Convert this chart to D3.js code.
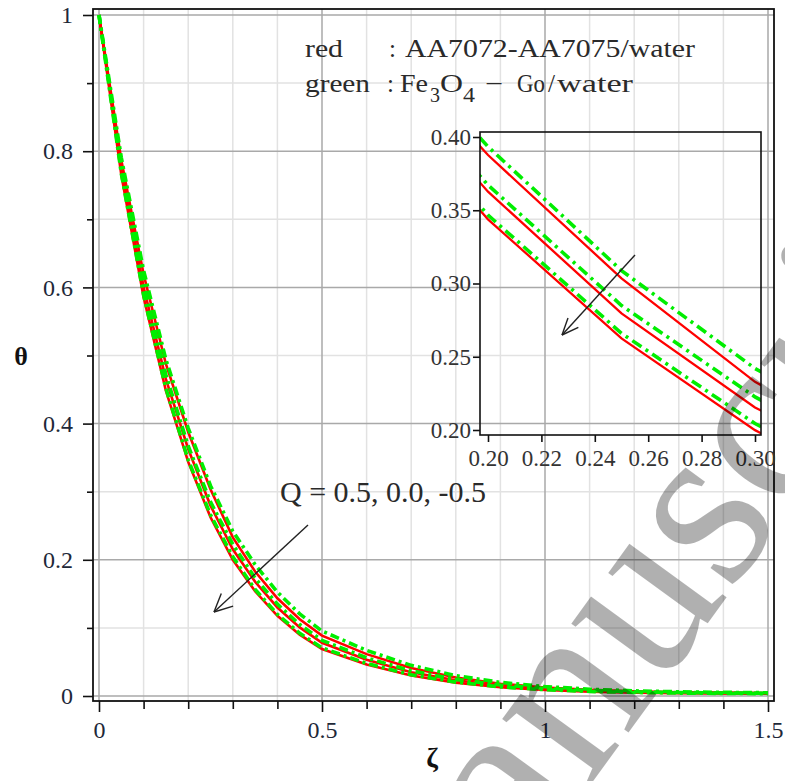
<!DOCTYPE html>
<html><head><meta charset="utf-8">
<script src="https://cdn.jsdelivr.net/npm/d3@7"></script>
<style>body{margin:0;background:#fff} svg{display:block}</style>
</head><body>
<svg id="c" width="785" height="781"></svg>
<script>
// ---------- data ----------
const zeta = [0,0.05,0.1,0.15,0.2,0.25,0.3,0.35,0.4,0.45,0.5,0.6,0.7,0.8,0.9,1.0,1.1,1.2,1.3,1.4,1.5];
// red : AA7072-AA7075/water, Q = 0.5, 0.0, -0.5
const redQ05  = [1,0.7870,0.6194,0.4875,0.3877,0.3035,0.2329,0.1828,0.1435,0.1128,0.0887,0.0615,0.0410,0.0272,0.0180,0.0124,0.0090,0.0068,0.0056,0.0049,0.0044];
const redQ00  = [1,0.7749,0.6005,0.4653,0.3627,0.2796,0.2154,0.1678,0.1300,0.1008,0.0781,0.0533,0.0350,0.0230,0.0152,0.0105,0.0076,0.0058,0.0048,0.0042,0.0038];
const redQm05 = [1,0.7653,0.5857,0.4482,0.3438,0.2625,0.1999,0.1538,0.1177,0.0901,0.0689,0.0462,0.0300,0.0196,0.0128,0.0089,0.0064,0.0050,0.0041,0.0036,0.0032];
// green : Fe3O4-Go/water, Q = 0.5, 0.0, -0.5
const greenQ05  = [1,0.7906,0.6250,0.4941,0.3934,0.3088,0.2420,0.1930,0.1526,0.1206,0.0954,0.0670,0.0450,0.0300,0.0200,0.0138,0.0100,0.0076,0.0062,0.0054,0.0048];
const greenQ00  = [1,0.7784,0.6059,0.4717,0.3672,0.2850,0.2226,0.1732,0.1348,0.1049,0.0817,0.0560,0.0370,0.0244,0.0162,0.0112,0.0081,0.0062,0.0051,0.0045,0.0040];
const greenQm05 = [1,0.7672,0.5886,0.4516,0.3467,0.2660,0.2044,0.1565,0.1200,0.0921,0.0707,0.0478,0.0312,0.0204,0.0134,0.0093,0.0067,0.0052,0.0043,0.0038,0.0034];

const xTicksMain = [0,0.5,1,1.5];
const xTickLabelsMain = ["0","0.5","1","1.5"];
const xMinorMain = [0.1,0.2,0.3,0.4,0.6,0.7,0.8,0.9,1.1,1.2,1.3,1.4];
const yTicksMain = [0,0.2,0.4,0.6,0.8,1];
const yTickLabelsMain = ["0","0.2","0.4","0.6","0.8","1"];
const yMinorMain = [0.1,0.3,0.5,0.7,0.9];
const xTicksInset = [0.20,0.22,0.24,0.26,0.28,0.30];
const xTickLabelsInset = ["0.20","0.22","0.24","0.26","0.28","0.30"];
const yTicksInset = [0.20,0.25,0.30,0.35,0.40];
const yTickLabelsInset = ["0.20","0.25","0.30","0.35","0.40"];

const redSeries = [redQ05, redQ00, redQm05];
const greenSeries = [greenQ05, greenQ00, greenQm05];

// ---------- drawing ----------
const svg = d3.select("#c");
const FONT = "'Liberation Serif','Times New Roman',serif";
const TICKCOL = "#1e2838";

svg.append("rect").attr("width",785).attr("height",781).attr("fill","#fff");

const x = d3.scaleLinear().domain([0,1.5]).range([99,768]);
const y = d3.scaleLinear().domain([0,1]).range([696,15]);
const F = {l:93, r:774, t:9, b:701};

const defs = svg.append("defs");
defs.append("clipPath").attr("id","mainClip").append("rect")
  .attr("x",F.l).attr("y",F.t).attr("width",F.r-F.l).attr("height",F.b-F.t);

// grid
const grid = svg.append("g");
grid.selectAll(".gxm").data(xMinorMain).enter().append("line")
  .attr("x1",d=>x(d)).attr("x2",d=>x(d)).attr("y1",F.t).attr("y2",F.b)
  .attr("stroke","#e2e2e2").attr("stroke-width",1.5);
grid.selectAll(".gym").data(yMinorMain).enter().append("line")
  .attr("y1",d=>y(d)).attr("y2",d=>y(d)).attr("x1",F.l).attr("x2",F.r)
  .attr("stroke","#e2e2e2").attr("stroke-width",1.5);
grid.selectAll(".gx").data(xTicksMain).enter().append("line")
  .attr("x1",d=>x(d)).attr("x2",d=>x(d)).attr("y1",F.t).attr("y2",F.b)
  .attr("stroke","#a9a9a9").attr("stroke-width",1.5);
grid.selectAll(".gy").data(yTicksMain).enter().append("line")
  .attr("y1",d=>y(d)).attr("y2",d=>y(d)).attr("x1",F.l).attr("x2",F.r)
  .attr("stroke","#a9a9a9").attr("stroke-width",1.5);

// frame
svg.append("rect").attr("x",F.l).attr("y",F.t).attr("width",F.r-F.l).attr("height",F.b-F.t)
  .attr("fill","none").attr("stroke","#111").attr("stroke-width",1.8);

// axes
function styleAxis(g, fs){
  g.select(".domain").remove();
  g.selectAll(".tick line").attr("stroke","#111").attr("stroke-width",1.6);
  g.selectAll(".tick text").attr("font-family",FONT).attr("font-size",fs).attr("fill",TICKCOL);
}
const yAxis = svg.append("g").attr("transform",`translate(${F.l},0)`)
  .call(d3.axisLeft(y).tickValues(yTicksMain).tickSize(10).tickPadding(10)
    .tickFormat((d,i)=>yTickLabelsMain[i]));
styleAxis(yAxis,24);
const yAxisMinor = svg.append("g").attr("transform",`translate(${F.l},0)`)
  .call(d3.axisLeft(y).tickValues(yMinorMain).tickSize(6).tickFormat(""));
styleAxis(yAxisMinor,24);
const xAxis = svg.append("g").attr("transform",`translate(0,${F.b})`)
  .call(d3.axisBottom(x).tickValues(xTicksMain).tickSize(11).tickPadding(9)
    .tickFormat((d,i)=>xTickLabelsMain[i]));
styleAxis(xAxis,24);
const xAxisMinor = svg.append("g").attr("transform",`translate(0,${F.b})`)
  .call(d3.axisBottom(x).tickValues(xMinorMain).tickSize(8).tickFormat(""));
styleAxis(xAxisMinor,24);

// axis titles
svg.append("text").attr("x",21).attr("y",365).attr("text-anchor","middle")
  .attr("font-family",FONT).attr("font-weight","bold").attr("font-size",26).attr("fill","#111").text("θ");
svg.append("text").attr("x",432).attr("y",767).attr("text-anchor","middle")
  .attr("font-family",FONT).attr("font-weight","bold").attr("font-size",28).attr("fill","#111").text("ζ");

// curves
function drawCurves(parent, xs, ys, redW, greenW, dash){
  const line = d3.line().x((d,i)=>xs(zeta[i])).y(d=>ys(d));
  redSeries.forEach(s=>{
    parent.append("path").datum(s).attr("d",line).attr("fill","none")
      .attr("stroke","#ff0000").attr("stroke-width",redW);
  });
  greenSeries.forEach(s=>{
    parent.append("path").datum(s).attr("d",line).attr("fill","none")
      .attr("stroke","#00ee00").attr("stroke-width",greenW).attr("stroke-dasharray",dash);
  });
}
const mainCurves = svg.append("g").attr("clip-path","url(#mainClip)");
drawCurves(mainCurves, x, y, 2.6, 3.6, "9,4,3,4");

// legend
const leg = svg.append("g").attr("font-family",FONT).attr("font-size",25).attr("fill","#2a2a2a");
function lt(xp, yp, txt, w, fs){
  const t = leg.append("text").attr("x",xp).attr("y",yp).text(txt);
  if (w) t.attr("textLength",w).attr("lengthAdjust","spacingAndGlyphs");
  if (fs) t.attr("font-size",fs);
  return t;
}
lt(305,57,"red",38);
lt(389,57,":");
lt(405,57,"AA7072-AA7075/water",290);
lt(305,92,"green",65);
lt(387,92,":");
lt(400,92,"Fe",28);
lt(430,102,"3",10,21);
lt(440,92,"O",23);
lt(463,102,"4",12,21);
lt(485,92,"−",18);
lt(517,92,"Go",28);
lt(548,92,"/",7);
lt(557,92,"water",76);

// Q annotation + arrow
svg.append("text").attr("x",280).attr("y",502).attr("font-family",FONT).attr("font-size",30)
  .attr("fill","#2a2a2a").text("Q = 0.5, 0.0, -0.5");
function arrow(x1,y1,x2,y2,len,ang){
  const g = svg.append("g").attr("stroke","#222").attr("stroke-width",1.4).attr("fill","none");
  g.append("line").attr("x1",x1).attr("y1",y1).attr("x2",x2).attr("y2",y2);
  const a = Math.atan2(y1-y2,x1-x2);
  [ang,-ang].forEach(da=>{
    g.append("line").attr("x1",x2).attr("y1",y2)
      .attr("x2",x2+len*Math.cos(a+da)).attr("y2",y2+len*Math.sin(a+da));
  });
}
arrow(308,525,214,612,20,0.45);

// inset
const I = {l:480, r:761, t:132, b:435};
const xi = d3.scaleLinear().domain([0.20,0.30]).range([488,755]);
const yi = d3.scaleLinear().domain([0.20,0.40]).range([430,137]);
defs.append("clipPath").attr("id","insetClip").append("rect")
  .attr("x",I.l).attr("y",I.t).attr("width",I.r-I.l).attr("height",I.b-I.t);
const insetCurves = svg.append("g").attr("clip-path","url(#insetClip)");
drawCurves(insetCurves, xi, yi, 2.3, 3.6, "11,5,3,5");
svg.append("rect").attr("x",I.l).attr("y",I.t).attr("width",I.r-I.l).attr("height",I.b-I.t)
  .attr("fill","none").attr("stroke","#111").attr("stroke-width",1.6);
const yiAxis = svg.append("g").attr("transform",`translate(${I.l},0)`)
  .call(d3.axisLeft(yi).tickValues(yTicksInset).tickSize(7).tickPadding(2)
    .tickFormat((d,i)=>yTickLabelsInset[i]));
styleAxis(yiAxis,23);
yiAxis.selectAll(".tick text").attr("fill","#333");
const xiAxis = svg.append("g").attr("transform",`translate(0,${I.b})`)
  .call(d3.axisBottom(xi).tickValues(xTicksInset).tickSize(7).tickPadding(8)
    .tickFormat((d,i)=>xTickLabelsInset[i]));
styleAxis(xiAxis,23);
xiAxis.selectAll(".tick text").attr("fill","#333");
arrow(635,255,562,335,18,0.4);

// watermark
svg.append("text").attr("transform","translate(400,1047) rotate(-54)")
  .attr("font-family",FONT).attr("font-size",240).attr("fill","#000").attr("fill-opacity",0.31)
  .text("Manuscript");
</script>
</body></html>
